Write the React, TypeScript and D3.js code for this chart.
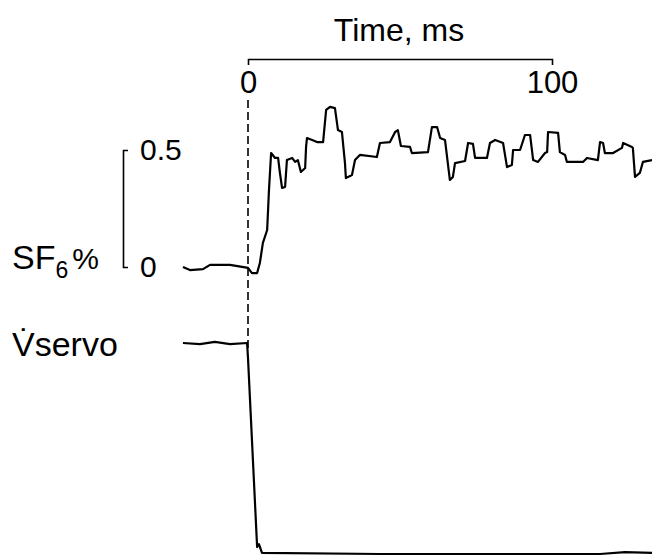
import { useEffect, useRef } from 'react'
import * as d3 from 'd3'

// SF6 trace
const sf6Time = [-21.4, -19.1, -14.8, -12.5, -5.9, 0, 1.3, 3.0, 3.9, 4.9, 6.3, 6.9, 7.6, 8.9, 9.9, 10.5, 11.2, 12.2, 12.8, 14.5, 15.5, 16.4, 17.4, 18.8, 19.1, 19.4, 21.1, 22.7, 24.7, 25.7, 27.0, 28.6, 29.6, 30.9, 31.9, 32.2, 32.9, 34.2, 35.2, 36.8, 42.4, 43.4, 46.7, 48.4, 49.3, 50.3, 53.3, 53.9, 59.2, 60.5, 62.2, 63.2, 64.8, 66.4, 67.4, 68.1, 71.4, 72.4, 74.0, 74.7, 78.6, 79.6, 81.3, 83.9, 85.2, 86.8, 87.2, 89.5, 91.1, 92.8, 93.8, 95.4, 97.7, 98.4, 98.7, 102.0, 102.6, 104.3, 104.9, 110.2, 111.5, 115.1, 115.8, 116.8, 117.4, 120.1, 123.0, 123.4, 126.3, 126.6, 127.3, 128.9, 129.9, 132.9]
const sf6Value = [0, -0.013, -0.009, 0.009, 0.009, -0.004, -0.026, -0.026, 0.017, 0.103, 0.158, 0.329, 0.487, 0.466, 0.466, 0.402, 0.338, 0.342, 0.457, 0.466, 0.449, 0.457, 0.406, 0.423, 0.513, 0.551, 0.543, 0.534, 0.534, 0.671, 0.684, 0.679, 0.585, 0.577, 0.444, 0.38, 0.385, 0.393, 0.457, 0.479, 0.47, 0.53, 0.534, 0.577, 0.585, 0.517, 0.513, 0.487, 0.491, 0.598, 0.598, 0.551, 0.543, 0.372, 0.385, 0.444, 0.453, 0.53, 0.526, 0.466, 0.466, 0.53, 0.543, 0.53, 0.427, 0.436, 0.5, 0.5, 0.564, 0.564, 0.457, 0.449, 0.487, 0.491, 0.577, 0.573, 0.491, 0.479, 0.449, 0.449, 0.466, 0.457, 0.534, 0.53, 0.487, 0.487, 0.509, 0.53, 0.513, 0.509, 0.385, 0.402, 0.449, 0.457]

// servo flow, relative units (1 = before, 0 = after)
const servoTime = [-21.4, -15.8, -10.9, -5.9, -0.3, 0, 3.0, 3.6, 4.6, 43.4, 115.8, 124, 132.9]
const servoValue = [1, 0.995, 1.005, 0.995, 1, 0.929, 0.033, 0.047, 0.005, 0, 0, 0.009, 0.005]

const timeTicks = [0, 100]
const sf6Ticks = [0, 0.5]

const FONT = 'Liberation Sans, Arial, Helvetica, sans-serif'

export default function App() {
  const ref = useRef<SVGSVGElement>(null)

  useEffect(() => {
    if (!ref.current) return
    const svg = d3.select(ref.current)
    svg.selectAll('*').remove()

    const x = d3.scaleLinear().domain([0, 100]).range([248, 552])
    const ySf6 = d3.scaleLinear().domain([0, 0.5]).range([267, 150])
    const yServo = d3.scaleLinear().domain([0, 1]).range([554, 343])

    // time bracket on top
    const tAxis = svg
      .append('g')
      .attr('transform', 'translate(0,59)')
      .call(d3.axisBottom(x).tickValues(timeTicks).tickSize(0).tickSizeOuter(6).tickPadding(12).tickFormat(d => String(d)))
    tAxis.select('.domain').attr('stroke', '#000').attr('stroke-width', 1.6)
    tAxis.selectAll('text').attr('fill', '#000').style('font-size', '31px').style('font-family', FONT)

    svg
      .append('text')
      .attr('x', 399)
      .attr('y', 41)
      .attr('text-anchor', 'middle')
      .style('font-size', '32px')
      .style('font-family', FONT)
      .text('Time, ms')

    // SF6 scale bracket
    const sAxis = svg
      .append('g')
      .attr('transform', 'translate(123,0)')
      .call(d3.axisRight(ySf6).tickValues(sf6Ticks).tickSize(0).tickSizeOuter(5).tickPadding(17).tickFormat(d => String(d)))
    sAxis.select('.domain').attr('stroke', '#000').attr('stroke-width', 1.6)
    sAxis.selectAll('text').attr('fill', '#000').style('font-size', '30px').style('font-family', FONT)

    const sfLabel = svg
      .append('text')
      .attr('x', 12)
      .attr('y', 269)
      .style('font-size', '34px')
      .style('font-family', FONT)
    sfLabel.append('tspan').text('SF')
    sfLabel.append('tspan').attr('dy', 9).style('font-size', '23px').text('6')
    sfLabel.append('tspan').attr('dy', -9).attr('dx', 4).style('font-size', '30px').text('%')

    svg
      .append('text')
      .attr('x', 12)
      .attr('y', 356)
      .style('font-size', '34px')
      .style('font-family', FONT)
      .text('V\u0307servo')

    // dashed zero line
    svg
      .append('line')
      .attr('x1', x(0))
      .attr('x2', x(0))
      .attr('y1', 100)
      .attr('y2', 352)
      .attr('stroke', '#000')
      .attr('stroke-width', 1.6)
      .attr('stroke-dasharray', '8,4')

    const sfLine = d3
      .line<number>()
      .x(i => x(sf6Time[i]))
      .y(i => ySf6(sf6Value[i]))
    svg
      .append('path')
      .datum(d3.range(sf6Time.length))
      .attr('fill', 'none')
      .attr('stroke', '#000')
      .attr('stroke-width', 2.2)
      .attr('stroke-linejoin', 'round')
      .attr('d', sfLine)

    const servoLine = d3
      .line<number>()
      .x(i => x(servoTime[i]))
      .y(i => yServo(servoValue[i]))
    svg
      .append('path')
      .datum(d3.range(servoTime.length))
      .attr('fill', 'none')
      .attr('stroke', '#000')
      .attr('stroke-width', 2.2)
      .attr('stroke-linejoin', 'round')
      .attr('d', servoLine)
  }, [])

  return (
    <svg
      ref={ref}
      width={652}
      height={557}
      style={{ position: 'absolute', left: 0, top: 0, background: '#fff' }}
    />
  )
}
